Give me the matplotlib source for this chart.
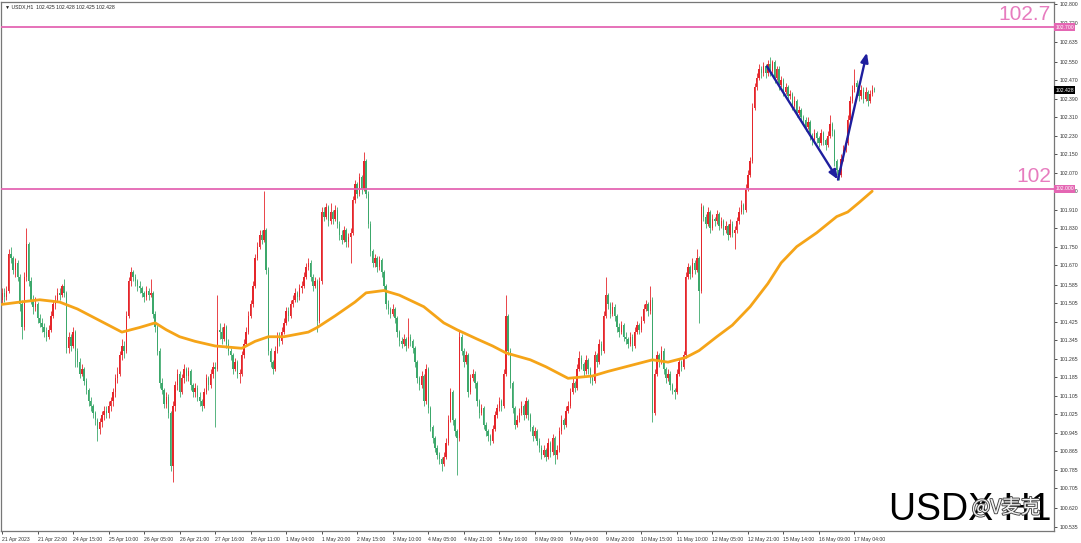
import matplotlib
matplotlib.use("Agg")
import matplotlib.pyplot as plt
import matplotlib.patheffects as pe
import matplotlib.transforms as mtransforms
import numpy as np

# --- USDX H1 candles (one value per bar) ---
closes = [
    101.55, 101.53, 101.56, 101.72, 101.70, 101.65, 101.68, 101.62, 101.50, 101.40,
    101.62, 101.76, 101.60, 101.52, 101.49, 101.50, 101.44, 101.42, 101.40, 101.38,
    101.36, 101.39, 101.45, 101.50, 101.52, 101.55, 101.54, 101.58, 101.55, 101.31,
    101.36, 101.32, 101.38, 101.30, 101.25, 101.20, 101.22, 101.17, 101.13, 101.08,
    101.06, 101.03, 101.00, 100.96, 100.99, 101.02, 101.04, 101.03, 101.06, 101.08,
    101.12, 101.18, 101.20, 101.28, 101.32, 101.30, 101.45, 101.60, 101.64, 101.62,
    101.60, 101.58, 101.57, 101.55, 101.53, 101.56, 101.54, 101.55, 101.46, 101.40,
    101.30, 101.16, 101.13, 101.07, 101.10, 101.03, 100.80, 101.06, 101.15, 101.20,
    101.12, 101.18, 101.22, 101.19, 101.21, 101.15, 101.12, 101.14, 101.10, 101.08,
    101.06, 101.12, 101.18, 101.15, 101.20, 101.23, 101.22, 101.39, 101.38, 101.35,
    101.40, 101.33, 101.30, 101.28, 101.22, 101.25, 101.20, 101.20, 101.28, 101.33,
    101.38, 101.45, 101.50, 101.58, 101.70, 101.75, 101.80, 101.78, 101.82, 101.65,
    101.30, 101.25, 101.22, 101.30, 101.36, 101.34, 101.38, 101.42, 101.47, 101.45,
    101.50, 101.52, 101.55, 101.53, 101.57, 101.58, 101.62, 101.66, 101.68, 101.62,
    101.58, 101.60, 101.43, 101.60, 101.90, 101.88, 101.92, 101.86, 101.90, 101.87,
    101.91, 101.85, 101.80, 101.78, 101.82, 101.77, 101.79, 101.81, 101.95, 102.02,
    101.98, 102.05, 102.00, 102.12, 101.98, 101.85, 101.73, 101.68, 101.70, 101.66,
    101.69, 101.64, 101.58, 101.50, 101.48, 101.46, 101.48, 101.44, 101.38, 101.34,
    101.33, 101.35, 101.32, 101.36, 101.34, 101.31, 101.25, 101.18, 101.15, 101.19,
    101.08, 101.22, 101.05, 100.97, 100.92, 100.88, 100.85, 100.83, 100.81, 100.84,
    100.90, 101.00, 101.12, 101.00, 100.95, 100.92, 101.36, 101.30, 101.25, 101.28,
    101.12, 101.18, 101.20, 101.16, 101.08, 101.03, 101.05, 100.98, 100.95, 100.93,
    100.91, 100.96, 101.02, 101.05, 101.08, 101.06, 101.20, 101.45, 101.30, 101.16,
    101.05, 100.98, 101.00, 101.03, 101.06, 101.02, 101.08, 101.02, 100.97, 100.93,
    100.95, 100.91, 100.88, 100.85, 100.87, 100.84, 100.90, 100.86, 100.92, 100.85,
    100.87, 100.95, 101.00, 100.98, 101.04, 101.06, 101.12, 101.16, 101.14, 101.22,
    101.27, 101.24, 101.21, 101.26, 101.22, 101.18, 101.17, 101.28, 101.25, 101.33,
    101.30, 101.45, 101.54, 101.50, 101.46, 101.49, 101.45, 101.40, 101.38, 101.41,
    101.36, 101.35, 101.33, 101.36, 101.32, 101.38, 101.41, 101.39, 101.43, 101.48,
    101.50, 101.47, 101.52, 101.03, 101.20, 101.28, 101.25, 101.30, 101.22, 101.18,
    101.20, 101.15, 101.13, 101.12, 101.20, 101.25, 101.23, 101.28, 101.62, 101.66,
    101.63, 101.68, 101.65, 101.70, 101.56, 101.92, 101.88, 101.85, 101.90, 101.83,
    101.87, 101.86, 101.89, 101.84, 101.86, 101.82, 101.84, 101.80, 101.85, 101.81,
    101.82, 101.86, 101.90, 101.93, 101.91, 102.00, 102.06, 102.12, 102.35, 102.44,
    102.48, 102.52, 102.50, 102.53, 102.50, 102.54, 102.51, 102.55, 102.48, 102.52,
    102.45, 102.47, 102.42, 102.44, 102.40, 102.41, 102.36, 102.38, 102.33, 102.34,
    102.31, 102.30, 102.27, 102.29, 102.23, 102.21, 102.24, 102.22, 102.20, 102.24,
    102.21, 102.19, 102.23, 102.28, 102.25, 102.12, 102.08, 102.06, 102.13, 102.17,
    102.20, 102.30, 102.38, 102.43, 102.46, 102.44, 102.40, 102.43, 102.39, 102.42,
    102.38, 102.41, 102.43, 102.428,
]

highs = [
    101.57, 101.57, 101.58, 101.74, 101.75, 101.71, 101.70, 101.69, 101.63, 101.52,
    101.64, 101.83, 101.77, 101.62, 101.54, 101.53, 101.51, 101.46, 101.44, 101.42,
    101.40, 101.41, 101.47, 101.52, 101.54, 101.57, 101.57, 101.59, 101.61, 101.56,
    101.38, 101.37, 101.40, 101.39, 101.31, 101.27, 101.24, 101.23, 101.18, 101.14,
    101.10, 101.07, 101.04, 101.01, 101.01, 101.04, 101.06, 101.06, 101.08, 101.10,
    101.14, 101.20, 101.23, 101.30, 101.35, 101.34, 101.47, 101.62, 101.66, 101.65,
    101.63, 101.61, 101.60, 101.58, 101.56, 101.58, 101.57, 101.61, 101.56, 101.47,
    101.41, 101.31, 101.18, 101.14, 101.12, 101.11, 101.04, 101.08, 101.17, 101.22,
    101.21, 101.20, 101.24, 101.23, 101.23, 101.22, 101.16, 101.16, 101.15, 101.12,
    101.09, 101.14, 101.20, 101.19, 101.22, 101.25, 101.25, 101.54, 101.42, 101.40,
    101.42, 101.41, 101.35, 101.31, 101.29, 101.27, 101.26, 101.22, 101.30, 101.35,
    101.40, 101.47, 101.52, 101.60, 101.72, 101.77, 101.82, 101.82, 101.99, 101.83,
    101.66, 101.31, 101.26, 101.32, 101.38, 101.38, 101.40, 101.44, 101.49, 101.49,
    101.52, 101.54, 101.57, 101.56, 101.59, 101.60, 101.64, 101.68, 101.70, 101.69,
    101.63, 101.62, 101.61, 101.62, 101.92, 101.92, 101.94, 101.93, 101.94, 101.91,
    101.93, 101.92, 101.86, 101.82, 101.84, 101.83, 101.81, 101.83, 101.97, 102.04,
    102.03, 102.07, 102.06, 102.16, 102.13, 101.99, 101.86, 101.74, 101.72, 101.71,
    101.71, 101.70, 101.65, 101.59, 101.52, 101.49, 101.50, 101.49, 101.45, 101.39,
    101.36, 101.37, 101.36, 101.44, 101.37, 101.35, 101.32, 101.26, 101.19, 101.21,
    101.20, 101.24, 101.23, 101.06, 100.98, 100.93, 100.89, 100.86, 100.84, 100.86,
    100.92, 101.02, 101.14, 101.13, 101.01, 100.96, 101.39, 101.37, 101.31, 101.30,
    101.29, 101.20, 101.22, 101.21, 101.17, 101.09, 101.07, 101.06, 100.99, 100.96,
    100.94, 100.98, 101.04, 101.07, 101.10, 101.09, 101.22, 101.54, 101.46, 101.31,
    101.17, 101.06, 101.02, 101.05, 101.08, 101.07, 101.10, 101.09, 101.03, 100.98,
    100.97, 100.96, 100.92, 100.89, 100.89, 100.88, 100.92, 100.91, 100.94, 100.93,
    100.89, 100.97, 101.02, 101.01, 101.06, 101.08, 101.14, 101.18, 101.17, 101.24,
    101.30, 101.28, 101.25, 101.28, 101.27, 101.23, 101.19, 101.30, 101.29, 101.35,
    101.34, 101.47, 101.62, 101.55, 101.51, 101.51, 101.50, 101.46, 101.42, 101.43,
    101.42, 101.38, 101.36, 101.38, 101.37, 101.40, 101.43, 101.42, 101.45, 101.50,
    101.52, 101.51, 101.58, 101.53, 101.22, 101.30, 101.29, 101.32, 101.31, 101.23,
    101.22, 101.21, 101.16, 101.14, 101.22, 101.27, 101.26, 101.30, 101.64, 101.68,
    101.67, 101.70, 101.69, 101.74, 101.71, 101.94, 101.93, 101.89, 101.92, 101.91,
    101.89, 101.88, 101.91, 101.90, 101.88, 101.87, 101.86, 101.85, 101.87, 101.86,
    101.84, 101.88, 101.92, 101.95, 101.94, 102.02, 102.08, 102.14, 102.37, 102.46,
    102.50, 102.54, 102.53, 102.55, 102.54, 102.56, 102.57, 102.56, 102.56, 102.53,
    102.53, 102.49, 102.48, 102.46, 102.45, 102.43, 102.42, 102.40, 102.39, 102.36,
    102.35, 102.32, 102.31, 102.31, 102.30, 102.24, 102.26, 102.25, 102.23, 102.26,
    102.25, 102.22, 102.25, 102.32, 102.29, 102.26, 102.13, 102.09, 102.15, 102.19,
    102.22, 102.32, 102.40, 102.45, 102.52, 102.47, 102.45, 102.45, 102.44, 102.44,
    102.43, 102.43, 102.45, 102.44,
]

lows = [
    101.50, 101.51, 101.52, 101.55, 101.68, 101.63, 101.62, 101.60, 101.47, 101.35,
    101.39, 101.60, 101.58, 101.50, 101.46, 101.47, 101.42, 101.40, 101.38, 101.36,
    101.34, 101.35, 101.38, 101.44, 101.48, 101.51, 101.52, 101.53, 101.53, 101.29,
    101.29, 101.30, 101.31, 101.23, 101.23, 101.18, 101.19, 101.15, 101.11, 101.06,
    101.04, 101.01, 100.98, 100.91, 100.94, 100.97, 101.00, 101.01, 101.01, 101.04,
    101.06, 101.10, 101.16, 101.19, 101.26, 101.27, 101.29, 101.44, 101.58, 101.60,
    101.58, 101.56, 101.55, 101.53, 101.51, 101.52, 101.52, 101.53, 101.44, 101.38,
    101.28, 101.14, 101.11, 101.05, 101.05, 101.01, 100.78, 100.73, 101.04, 101.13,
    101.10, 101.11, 101.16, 101.17, 101.17, 101.13, 101.10, 101.10, 101.08, 101.06,
    101.04, 101.05, 101.11, 101.13, 101.14, 101.18, 100.97, 101.21, 101.35, 101.33,
    101.34, 101.31, 101.28, 101.26, 101.20, 101.21, 101.18, 101.16, 101.19, 101.27,
    101.32, 101.37, 101.44, 101.49, 101.57, 101.69, 101.74, 101.76, 101.77, 101.63,
    101.28, 101.23, 101.20, 101.21, 101.29, 101.32, 101.33, 101.37, 101.41, 101.43,
    101.44, 101.49, 101.51, 101.51, 101.52, 101.55, 101.57, 101.61, 101.65, 101.60,
    101.56, 101.57, 101.38, 101.42, 101.59, 101.86, 101.87, 101.84, 101.85, 101.85,
    101.86, 101.83, 101.78, 101.76, 101.77, 101.75, 101.75, 101.68, 101.80, 101.94,
    101.96, 101.97, 101.98, 101.99, 101.96, 101.83, 101.71, 101.66, 101.66, 101.64,
    101.65, 101.62, 101.56, 101.48, 101.46, 101.44, 101.45, 101.42, 101.36, 101.32,
    101.31, 101.32, 101.30, 101.31, 101.32, 101.29, 101.23, 101.16, 101.13, 101.14,
    101.06, 101.07, 101.03, 100.95, 100.90, 100.86, 100.83, 100.81, 100.78, 100.80,
    100.83, 100.89, 100.99, 100.98, 100.93, 100.76, 100.91, 101.28, 101.23, 101.24,
    101.10, 101.11, 101.17, 101.14, 101.06, 101.01, 101.02, 100.96, 100.93, 100.91,
    100.89, 100.90, 100.95, 101.01, 101.04, 101.04, 101.05, 101.19, 101.28, 101.14,
    101.03, 100.96, 100.97, 100.99, 101.02, 101.00, 101.01, 101.00, 100.95, 100.91,
    100.92, 100.89, 100.86, 100.83, 100.84, 100.82, 100.83, 100.84, 100.85, 100.81,
    100.83, 100.86, 100.94, 100.96, 100.97, 101.03, 101.05, 101.11, 101.12, 101.13,
    101.21, 101.22, 101.19, 101.20, 101.20, 101.16, 101.15, 101.16, 101.23, 101.24,
    101.28, 101.29, 101.44, 101.48, 101.44, 101.45, 101.43, 101.38, 101.36, 101.37,
    101.34, 101.33, 101.31, 101.32, 101.30, 101.31, 101.37, 101.37, 101.38, 101.42,
    101.47, 101.45, 101.46, 100.99, 101.02, 101.19, 101.23, 101.24, 101.20, 101.16,
    101.17, 101.13, 101.11, 101.09, 101.11, 101.19, 101.21, 101.22, 101.27, 101.61,
    101.61, 101.62, 101.63, 101.64, 101.42, 101.55, 101.86, 101.83, 101.84, 101.81,
    101.82, 101.84, 101.85, 101.82, 101.83, 101.80, 101.81, 101.78, 101.79, 101.79,
    101.74, 101.81, 101.85, 101.89, 101.89, 101.90, 101.99, 102.05, 102.11, 102.34,
    102.43, 102.47, 102.48, 102.49, 102.48, 102.49, 102.49, 102.50, 102.46, 102.47,
    102.43, 102.44, 102.40, 102.41, 102.38, 102.39, 102.34, 102.35, 102.31, 102.32,
    102.29, 102.28, 102.25, 102.26, 102.21, 102.19, 102.20, 102.20, 102.18, 102.19,
    102.19, 102.17, 102.18, 102.22, 102.23, 102.10, 102.06, 102.04, 102.05, 102.12,
    102.16, 102.19, 102.29, 102.37, 102.42, 102.42, 102.38, 102.39, 102.37, 102.38,
    102.36, 102.37, 102.40, 102.42,
]

first_open = 101.52
opens = [first_open] + closes[:-1]

# moving average line, read at points along the curve
ma_bars = [0, 8, 17, 26, 34, 44, 54, 62, 69, 74, 80, 87, 96, 108, 114, 120, 127,
           138, 142, 150, 159, 164, 172, 179, 190, 199, 205, 214, 221, 227, 238,
           245, 255, 266, 273, 281, 293, 300, 308, 314, 322, 329, 337, 345, 351,
           358, 367, 376, 381, 386, 392]
ma_vals = [101.50, 101.51, 101.52, 101.51, 101.48, 101.43, 101.38, 101.40, 101.42,
           101.39, 101.36, 101.34, 101.32, 101.31, 101.34, 101.36, 101.36, 101.38,
           101.40, 101.45, 101.51, 101.55, 101.56, 101.54, 101.49, 101.42, 101.39,
           101.35, 101.32, 101.29, 101.26, 101.23, 101.18, 101.19, 101.21, 101.23,
           101.26, 101.25, 101.27, 101.30, 101.36, 101.41, 101.49, 101.59, 101.68,
           101.75, 101.81, 101.88, 101.90, 101.94, 101.99]

levels = [102.700, 102.000]
level_texts = ["102.7", "102"]
last_price = 102.428

# hand-drawn arrows (bar, price)
arrow_bars = [344.6, 376.6, 389.6]
arrow_prices = [102.53, 102.04, 102.59]

date_labels = ["21 Apr 2023", "21 Apr 22:00", "24 Apr 15:00", "25 Apr 10:00",
               "26 Apr 05:00", "26 Apr 21:00", "27 Apr 16:00", "28 Apr 11:00",
               "1 May 04:00", "1 May 20:00", "2 May 15:00", "3 May 10:00",
               "4 May 05:00", "4 May 21:00", "5 May 16:00", "8 May 09:00",
               "9 May 04:00", "9 May 20:00", "10 May 15:00", "11 May 10:00",
               "12 May 05:00", "12 May 21:00", "15 May 14:00", "16 May 09:00",
               "17 May 04:00"]
bars_per_label = 16

price_ticks = [102.800, 102.720, 102.635, 102.550, 102.470, 102.390, 102.310,
               102.230, 102.150, 102.070, 101.990, 101.910, 101.830, 101.750,
               101.670, 101.585, 101.505, 101.425, 101.345, 101.265, 101.185,
               101.105, 101.025, 100.945, 100.865, 100.785, 100.705, 100.620,
               100.535]

UP = '#e5262b'
DOWN = '#3ca86b'
PINK = '#e466b3'
ORANGE = '#f5a418'
NAVY = '#1e1e9e'
SMALL = 3.7
SMALL_FONT = 'Liberation Sans'

fig = plt.figure(figsize=(10.81, 5.43), dpi=100)
ax = fig.add_axes([1 / 1081, 12 / 543, 1053 / 1081, 529 / 543])

# candles
x = np.arange(len(closes))
o = np.array(opens)
c = np.array(closes)
cols = np.where(c >= o, UP, DOWN)
ax.vlines(x, lows, highs, colors=cols, lw=0.6, zorder=2)
body = np.maximum(np.abs(c - o), 0.004)
ax.bar(x, body, bottom=np.minimum(o, c), width=0.62, color=cols, linewidth=0, zorder=2)

# moving average
ax.plot(ma_bars, ma_vals, color=ORANGE, lw=2.0, solid_joinstyle='round',
        solid_capstyle='round', zorder=3)

# key levels
for lv, txt in zip(levels, level_texts):
    ax.axhline(lv, color=PINK, lw=1.3, zorder=3)
    ax.text(472.5, lv + 0.012, txt, ha='right', va='bottom', fontsize=15,
            color='#e77cbf', family='Liberation Sans', zorder=4)

# arrows
for i in range(len(arrow_bars) - 1):
    ax.annotate('', xy=(arrow_bars[i + 1], arrow_prices[i + 1]),
                xytext=(arrow_bars[i], arrow_prices[i]),
                arrowprops=dict(arrowstyle='-|>,head_length=0.55,head_width=0.22',
                                color=NAVY, lw=1.7, shrinkA=0, shrinkB=0),
                zorder=5)

ax.set_xlim(-0.45, 473.9)
ax.set_ylim(100.519, 102.809)

# right price axis
ax.yaxis.tick_right()
ax.set_yticks(price_ticks)
ax.set_yticklabels([f"{v:.3f}" for v in price_ticks], family=SMALL_FONT)
ax.tick_params(axis='y', labelsize=SMALL, length=2, width=0.6, pad=2, colors='#333333')

# price boxes on the axis
trans = mtransforms.blended_transform_factory(ax.transAxes, ax.transData)
for lv in levels:
    ax.text(1.0015, lv, f"{lv:.3f}", transform=trans, ha='left', va='center',
            fontsize=SMALL, family=SMALL_FONT, color='white', clip_on=False, zorder=6,
            bbox=dict(boxstyle='square,pad=0.25', fc=PINK, ec='none'))
ax.text(1.0015, last_price, f"{last_price:.3f}", transform=trans, ha='left',
        va='center', fontsize=SMALL, family=SMALL_FONT, color='white', clip_on=False,
        zorder=6, bbox=dict(boxstyle='square,pad=0.25', fc='black', ec='none'))

# date axis
ax.set_xticks(range(0, bars_per_label * len(date_labels), bars_per_label))
ax.set_xticklabels(date_labels, ha='left', family=SMALL_FONT)
ax.tick_params(axis='x', labelsize=SMALL, length=2, width=0.6, pad=2, colors='#333333')

for sp in ax.spines.values():
    sp.set_color('#777777')
    sp.set_linewidth(0.9)

ax.text(0.004, 0.996, "\u25bc USDX,H1  102.425 102.428 102.425 102.428",
        transform=ax.transAxes, ha='left', va='top', fontsize=SMALL,
        family=[SMALL_FONT, 'DejaVu Sans'], color='#222222')

# watermark
ax.text(0.9975, 0.006, "USDX H1", transform=ax.transAxes, ha='right', va='bottom',
        fontsize=27, family=['Liberation Sans Narrow', 'Liberation Sans'],
        color='black', zorder=6)
ax.text(0.922, 0.024, "@V\u9ea6\u514b", transform=ax.transAxes, ha='left',
        va='bottom', fontsize=14, family=['Noto Sans CJK SC', 'DejaVu Sans'],
        color='#f4f4f4', zorder=7,
        path_effects=[pe.withStroke(linewidth=1.3, foreground='#444444')])

fig.savefig("out.png", dpi=100)
